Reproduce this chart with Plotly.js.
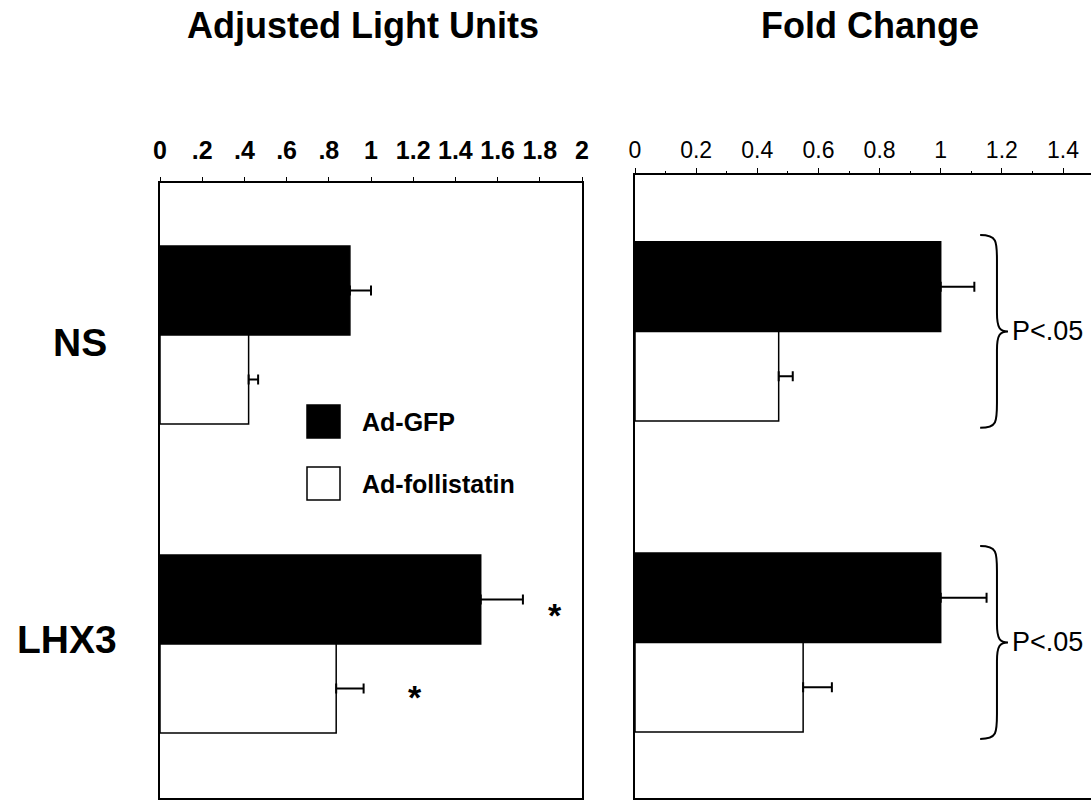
<!DOCTYPE html>
<html>
<head>
<meta charset="utf-8">
<script src="https://cdn.plot.ly/plotly-3.0.1.min.js"></script>
<style>html,body{margin:0;padding:0;background:#fff;}#chart{width:1091px;height:801px;}</style>
</head>
<body>
<div id="chart"></div>
<script>
// ---- data ----
const categories = ['NS', 'LHX3'];
const seriesNames = ['Ad-GFP', 'Ad-follistatin'];
const panelTitles = ['Adjusted Light Units', 'Fold Change'];

const lightGFP = [0.90, 1.52];
const lightGFPErr = [0.10, 0.20];
const lightFol = [0.42, 0.835];
const lightFolErr = [0.045, 0.13];

const foldGFP = [1.00, 1.00];
const foldGFPErr = [0.11, 0.15];
const foldFol = [0.47, 0.55];
const foldFolErr = [0.046, 0.094];

const lightTickVals = [0, 0.2, 0.4, 0.6, 0.8, 1, 1.2, 1.4, 1.6, 1.8, 2];
const lightTickText = ['0', '.2', '.4', '.6', '.8', '1', '1.2', '1.4', '1.6', '1.8', '2'];
const foldTickVals = [0, 0.2, 0.4, 0.6, 0.8, 1, 1.2, 1.4];
const foldTickText = ['0', '0.2', '0.4', '0.6', '0.8', '1', '1.2', '1.4'];

const starCats = ['LHX3', 'LHX3'];
const starX = [1.87, 1.21];
const pValueText = ['P&lt;.05', 'P&lt;.05'];

// ---- build ----
const FONT = 'Liberation Sans, Arial, Helvetica, sans-serif';
const catIdx = categories.map((c, i) => i);
const W = 1091, H = 801;
const px = v => v / W;
const py = v => (H - v) / H;

function barTrace(x, err, name, fill, xa, ya) {
  return {
    type: 'bar', orientation: 'h', name: name,
    y: catIdx, x: x, xaxis: xa, yaxis: ya,
    marker: {color: fill, line: {color: '#000', width: 1.5}},
    error_x: {type: 'data', array: err, symmetric: false, arrayminus: err.map(() => 0),
              color: '#000', thickness: 2, width: 5},
    hoverinfo: 'x+name', showlegend: false
  };
}

const data = [
  barTrace(lightGFP, lightGFPErr, seriesNames[0], '#000', 'x', 'y'),
  barTrace(lightFol, lightFolErr, seriesNames[1], '#fff', 'x', 'y'),
  barTrace(foldGFP, foldGFPErr, seriesNames[0], '#000', 'x2', 'y2'),
  barTrace(foldFol, foldFolErr, seriesNames[1], '#fff', 'x2', 'y2')
];

const annotations = [];
annotations.push({xref: 'paper', yref: 'paper', x: px(363), y: py(26), text: panelTitles[0],
  showarrow: false, xanchor: 'center', yanchor: 'middle',
  font: {family: FONT, size: 36, weight: 'bold', color: '#000'}});
annotations.push({xref: 'paper', yref: 'paper', x: px(870), y: py(26), text: panelTitles[1],
  showarrow: false, xanchor: 'center', yanchor: 'middle',
  font: {family: FONT, size: 36, weight: 'bold', color: '#000'}});

// category labels (left of the left panel)
const catLabelRight = [109, 119];
const catLabelShift = [-7, 5];
categories.forEach((c, i) => {
  annotations.push({xref: 'paper', yref: 'y', x: px(catLabelRight[i]), y: catIdx[i],
    yshift: catLabelShift[i], text: c, showarrow: false, xanchor: 'right', yanchor: 'middle',
    font: {family: FONT, size: 39, weight: 'bold', color: '#000'}});
});

// custom legend
const legendTop = [405, 467];
const shapes = [];
seriesNames.forEach((n, i) => {
  shapes.push({type: 'rect', xref: 'paper', yref: 'paper',
    x0: px(307), x1: px(340), y0: py(legendTop[i] + 33), y1: py(legendTop[i]),
    fillcolor: i === 0 ? '#000' : '#fff', line: {color: '#000', width: 1.5}});
  annotations.push({xref: 'paper', yref: 'paper', x: px(360), y: py(legendTop[i] + 17),
    text: n, showarrow: false, xanchor: 'left', yanchor: 'middle',
    font: {family: FONT, size: 25, weight: 'bold', color: '#000'}});
});

// asterisks
starCats.forEach((c, i) => {
  annotations.push({xref: 'x', yref: 'y', x: starX[i], y: categories.indexOf(c),
    yshift: i === 0 ? 29 : -53, text: '*', showarrow: false, xanchor: 'center', yanchor: 'middle',
    font: {family: FONT, size: 34, weight: 'bold', color: '#000'}});
});

// braces + p values on right panel
const bx0 = 1.129, bxv = 1.184, bxt = 1.22, half = 0.31;
categories.forEach((c, i) => {
  const m = i, t = m - half, b = m + half;
  const path = `M ${bx0},${t} C ${bxv},${t} ${bxv},${t + 0.02} ${bxv},${t + 0.08} ` +
    `L ${bxv},${m - 0.06} C ${bxv},${m - 0.01} ${bxv + 0.01},${m} ${bxt},${m} ` +
    `C ${bxv + 0.01},${m} ${bxv},${m + 0.01} ${bxv},${m + 0.06} ` +
    `L ${bxv},${b - 0.08} C ${bxv},${b - 0.02} ${bxv},${b} ${bx0},${b}`;
  shapes.push({type: 'path', xref: 'x2', yref: 'y2', path: path,
    line: {color: '#000', width: 2}});
  annotations.push({xref: 'x2', yref: 'y2', x: 1.228, y: m, text: pValueText[i],
    showarrow: false, xanchor: 'left', yanchor: 'middle',
    font: {family: FONT, size: 27, color: '#000'}});
});

const layout = {
  width: W, height: H,
  margin: {l: 0, r: 0, t: 0, b: 0, pad: 0},
  paper_bgcolor: '#fff', plot_bgcolor: '#fff',
  showlegend: false,
  barmode: 'group', bargap: 0.424, bargroupgap: 0,
  font: {family: FONT, color: '#000'},
  xaxis: {
    domain: [px(160), px(582)], range: [0, 2], side: 'top', anchor: 'y',
    showline: true, linewidth: 2, linecolor: '#000', mirror: true,
    ticks: 'outside', ticklen: 4, tickwidth: 1, tickcolor: '#000',
    tickmode: 'array', tickvals: lightTickVals, ticktext: lightTickText,
    tickfont: {family: FONT, size: 25, weight: 'bold', color: '#000'},
    ticklabelstandoff: 8,
    showgrid: false, zeroline: false, automargin: false, fixedrange: true
  },
  yaxis: {
    domain: [3 / H, py(183)], range: [1.498, -0.492], anchor: 'x',
    showline: true, linewidth: 2, linecolor: '#000', mirror: true,
    ticks: '', showticklabels: false,
    showgrid: false, zeroline: false, automargin: false, fixedrange: true
  },
  xaxis2: {
    domain: [px(635), 1], range: [0, 1.4916], side: 'top', anchor: 'y2',
    showline: true, linewidth: 2, linecolor: '#000', mirror: true,
    ticks: 'outside', ticklen: 5, tickwidth: 1, tickcolor: '#000',
    tickmode: 'array', tickvals: foldTickVals, ticktext: foldTickText,
    tickfont: {family: FONT, size: 23, color: '#000'},
    ticklabelstandoff: 1,
    minor: {tick0: 0, dtick: 0.1, ticks: 'outside', ticklen: 2, tickcolor: '#000', showgrid: false},
    showgrid: false, zeroline: false, automargin: false, fixedrange: true
  },
  yaxis2: {
    domain: [3 / H, py(175)], range: [1.5, -0.503], anchor: 'x2',
    showline: true, linewidth: 2, linecolor: '#000', mirror: false,
    ticks: '', showticklabels: false,
    showgrid: false, zeroline: false, automargin: false, fixedrange: true
  },
  annotations: annotations,
  shapes: shapes
};

Plotly.newPlot('chart', data, layout, {displayModeBar: false, staticPlot: true});
</script>
</body>
</html>
